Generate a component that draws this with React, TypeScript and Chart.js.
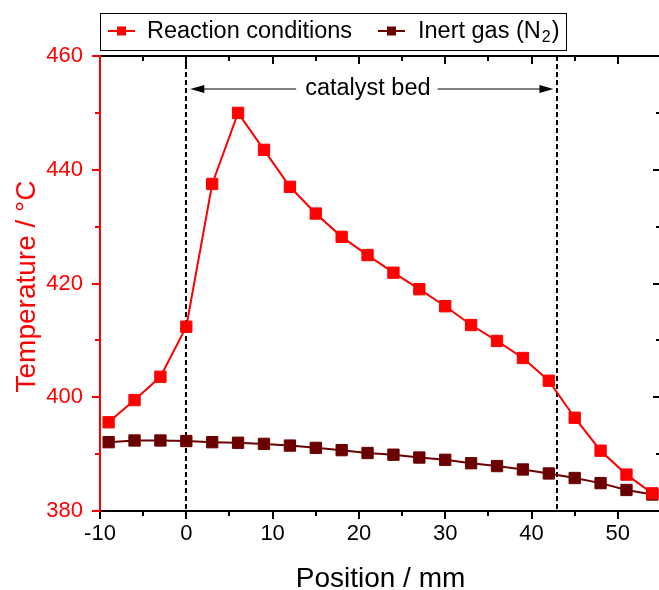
import React, { useEffect, useRef } from 'react';
import { Chart, registerables } from 'chart.js';
Chart.register(...registerables);

const positions = [-9, -6, -3, 0, 3, 6, 9, 12, 15, 18, 21, 24, 27, 30, 33, 36, 39, 42, 45, 48, 51, 54];
const reactionTemps = [395.6, 399.5, 403.6, 412.4, 437.5, 450.0, 443.5, 437.0, 432.3, 428.2, 425.0, 421.9, 419.0, 416.0, 412.7, 409.9, 406.9, 402.9, 396.4, 390.6, 386.4, 383.1];
const inertTemps = [392.1, 392.4, 392.4, 392.3, 392.1, 392.0, 391.8, 391.5, 391.1, 390.7, 390.2, 389.9, 389.4, 389.0, 388.4, 387.9, 387.3, 386.6, 385.8, 384.9, 383.7, 382.9];
const xTickValues = [-10, 0, 10, 20, 30, 40, 50];
const xMinorValues = [-5, 5, 15, 25, 35, 45, 55];
const yTickValues = [380, 400, 420, 440, 460];
const yMinorValues = [390, 410, 430, 450];
const bedStart = 0;
const bedEnd = 43;
const seriesNames = ['Reaction conditions', 'Inert gas (N', '2', ')'];

const RED = '#FF0000';
const WINE = '#6B0000';
const FONT = "Arial, 'Liberation Sans', Helvetica, sans-serif";

const decor = {
  id: 'decor',
  beforeDatasetsDraw(chart: any) {
    const { ctx, chartArea, scales } = chart;
    const x = scales.x;
    ctx.save();
    ctx.strokeStyle = '#000';
    ctx.lineWidth = 2;
    ctx.setLineDash([5, 3]);
    for (const v of [bedStart, bedEnd]) {
      const px = Math.round(x.getPixelForValue(v));
      ctx.beginPath();
      ctx.moveTo(px, chartArea.top);
      ctx.lineTo(px, chartArea.bottom);
      ctx.stroke();
    }
    ctx.restore();
  },
  afterDraw(chart: any) {
    const { ctx, chartArea, scales } = chart;
    const x = scales.x;
    const y = scales.y;
    const { left, right, top, bottom } = chartArea;
    ctx.save();
    ctx.lineWidth = 2;
    ctx.setLineDash([]);
    ctx.strokeStyle = '#000';
    ctx.beginPath();
    ctx.moveTo(left, top); ctx.lineTo(right, top);
    ctx.moveTo(right, top); ctx.lineTo(right, bottom);
    ctx.moveTo(left, bottom); ctx.lineTo(right + 1, bottom);
    ctx.stroke();
    const MAJ = 8, MIN = 5;
    ctx.beginPath();
    for (const v of xTickValues) {
      const px = Math.round(x.getPixelForValue(v));
      ctx.moveTo(px, bottom); ctx.lineTo(px, bottom + MAJ);
      ctx.moveTo(px, top); ctx.lineTo(px, top + MAJ);
    }
    for (const v of xMinorValues) {
      const px = Math.round(x.getPixelForValue(v));
      ctx.moveTo(px, bottom); ctx.lineTo(px, bottom + MIN);
      ctx.moveTo(px, top); ctx.lineTo(px, top + MIN);
    }
    for (const v of yTickValues) {
      const py = Math.round(y.getPixelForValue(v));
      ctx.moveTo(right, py); ctx.lineTo(right - MAJ, py);
    }
    for (const v of yMinorValues) {
      const py = Math.round(y.getPixelForValue(v));
      ctx.moveTo(right, py); ctx.lineTo(right - MIN, py);
    }
    ctx.stroke();
    ctx.strokeStyle = RED;
    ctx.beginPath();
    ctx.moveTo(left, top - 1); ctx.lineTo(left, bottom + 1);
    for (const v of yTickValues) {
      const py = Math.round(y.getPixelForValue(v));
      ctx.moveTo(left, py); ctx.lineTo(left - MAJ, py);
    }
    for (const v of yMinorValues) {
      const py = Math.round(y.getPixelForValue(v));
      ctx.moveTo(left, py); ctx.lineTo(left - MIN, py);
    }
    ctx.stroke();

    // axis titles
    ctx.fillStyle = '#000';
    ctx.font = `28px ${FONT}`;
    ctx.textAlign = 'center';
    ctx.textBaseline = 'alphabetic';
    ctx.fillText('Position / mm', (left + right) / 2, 587);
    ctx.save();
    ctx.translate(35, (top + bottom) / 2 + 3);
    ctx.rotate(-Math.PI / 2);
    ctx.fillStyle = RED;
    ctx.fillText('Temperature / °C', 0, 0);
    ctx.restore();

    // catalyst bed annotation
    const x0 = x.getPixelForValue(bedStart);
    const x1 = x.getPixelForValue(bedEnd);
    const ay = 89;
    ctx.font = `23.5px ${FONT}`;
    ctx.textAlign = 'center';
    ctx.textBaseline = 'middle';
    const label = 'catalyst bed';
    const mid = (x0 + x1) / 2 - 4;
    const tw = ctx.measureText(label).width;
    ctx.fillStyle = '#000';
    ctx.fillText(label, mid, ay);
    ctx.lineWidth = 1;
    ctx.strokeStyle = '#000';
    const lTip = x0 + 4, rTip = x1 - 4;
    ctx.beginPath();
    ctx.moveTo(lTip + 10, ay); ctx.lineTo(mid - tw / 2 - 9, ay);
    ctx.moveTo(mid + tw / 2 + 7, ay); ctx.lineTo(rTip - 10, ay);
    ctx.stroke();
    ctx.beginPath();
    ctx.moveTo(lTip, ay); ctx.lineTo(lTip + 14, ay - 4); ctx.lineTo(lTip + 14, ay + 4); ctx.closePath();
    ctx.moveTo(rTip, ay); ctx.lineTo(rTip - 14, ay - 4); ctx.lineTo(rTip - 14, ay + 4); ctx.closePath();
    ctx.fill();

    // legend
    ctx.lineWidth = 1;
    ctx.strokeStyle = '#000';
    ctx.fillStyle = '#fff';
    ctx.fillRect(100, 13, 466, 37);
    ctx.strokeRect(100.5, 13.5, 466, 37);
    const ly = 31;
    const drawMarker = (sx: number, color: string) => {
      ctx.strokeStyle = color;
      ctx.fillStyle = color;
      ctx.lineWidth = 2;
      ctx.beginPath();
      ctx.moveTo(sx, ly); ctx.lineTo(sx + 27, ly);
      ctx.stroke();
      ctx.fillRect(sx + 13.5 - 4.5, ly - 4.5, 9, 9);
    };
    drawMarker(108, RED);
    drawMarker(378, WINE);
    ctx.fillStyle = '#000';
    ctx.textAlign = 'left';
    ctx.textBaseline = 'middle';
    ctx.font = `23.5px ${FONT}`;
    ctx.fillText(seriesNames[0], 147, ly + 1);
    let tx = 418;
    ctx.fillText(seriesNames[1], tx, ly + 1);
    tx += ctx.measureText(seriesNames[1]).width;
    ctx.font = `16px ${FONT}`;
    ctx.fillText(seriesNames[2], tx + 1, ly + 7);
    tx += ctx.measureText(seriesNames[2]).width + 2;
    ctx.font = `23.5px ${FONT}`;
    ctx.fillText(seriesNames[3], tx, ly + 1);
    ctx.restore();
  },
};

export default function App() {
  const ref = useRef<HTMLCanvasElement>(null);
  useEffect(() => {
    if (!ref.current) return;
    const chart = new Chart(ref.current, {
      type: 'line',
      data: {
        datasets: [
          {
            label: 'Reaction conditions',
            data: positions.map((p, i) => ({ x: p, y: reactionTemps[i] })),
            borderColor: RED,
            backgroundColor: RED,
            borderWidth: 2,
            pointStyle: 'rect',
            pointRadius: 8,
            pointBorderWidth: 1,
            pointBackgroundColor: RED,
            pointBorderColor: RED,
            clip: false as any,
          },
          {
            label: 'Inert gas (N2)',
            data: positions.map((p, i) => ({ x: p, y: inertTemps[i] })),
            borderColor: WINE,
            backgroundColor: WINE,
            borderWidth: 2,
            pointStyle: 'rect',
            pointRadius: 8,
            pointBorderWidth: 1,
            pointBackgroundColor: WINE,
            pointBorderColor: WINE,
            clip: false as any,
          },
        ],
      },
      options: {
        responsive: false,
        animation: false,
        devicePixelRatio: 1,
        layout: { padding: { left: 0, top: 56, right: 4.5, bottom: 0 } },
        plugins: { legend: { display: false }, tooltip: { enabled: false } },
        scales: {
          x: {
            type: 'linear',
            min: -10,
            max: 55,
            afterBuildTicks: (s: any) => { s.ticks = xTickValues.map((v) => ({ value: v })); },
            afterFit: (s: any) => { s.height = 79; },
            grid: { display: false, drawTicks: false },
            border: { display: false },
            ticks: { color: '#000', font: { family: FONT, size: 22 }, padding: 10, maxRotation: 0, autoSkip: false },
          },
          y: {
            type: 'linear',
            min: 380,
            max: 460,
            afterBuildTicks: (s: any) => { s.ticks = yTickValues.map((v) => ({ value: v })); },
            afterFit: (s: any) => { s.width = 100; },
            grid: { display: false, drawTicks: false },
            border: { display: false },
            ticks: { color: RED, font: { family: FONT, size: 22 }, padding: 17 },
          },
        },
      },
      plugins: [decor],
    });
    return () => chart.destroy();
  }, []);
  return (
    <div style={{ position: 'fixed', left: 0, top: 0, width: 659, height: 590, overflow: 'hidden', background: '#fff' }}>
      <canvas ref={ref} width={670} height={590} style={{ display: 'block', width: 670, height: 590 }} />
    </div>
  );
}
